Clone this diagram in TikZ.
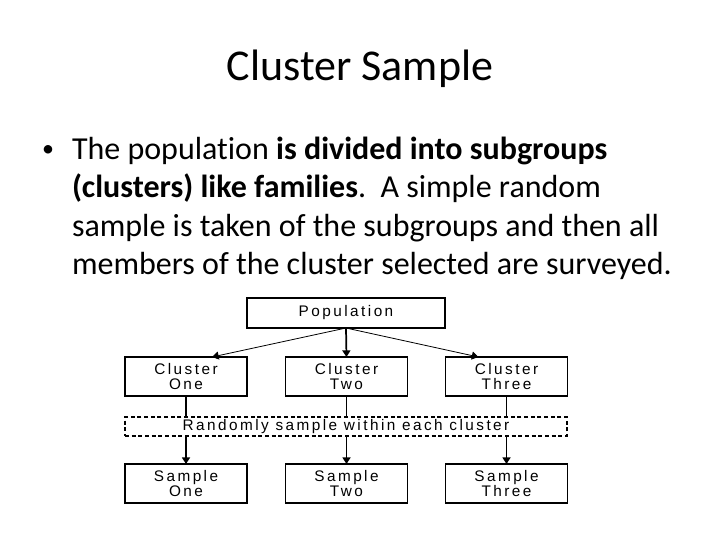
\documentclass[tikz,border=0pt]{standalone}
\usepackage{fontspec}
\setmainfont{Carlito}[Ligatures=NoCommon]
\newfontfamily\boxfont[LetterSpace=16]{Liberation Sans}
\usetikzlibrary{arrows.meta, positioning, calc}

\begin{document}
\begin{tikzpicture}[
    x=0.75pt, y=-0.75pt,
    every node/.style={inner sep=0pt, outer sep=0pt},
    slidetext/.style={font=\fontsize{24}{29}\selectfont, anchor=base west},
    box/.style={draw, line width=0.9pt, minimum width=91.5pt, minimum height=29.25pt, align=center, font=\boxfont\fontsize{11.5}{11}\selectfont},
    stepnote/.style={draw, dashed, dash pattern=on 3pt off 2pt, line width=0.9pt, minimum width=331.5pt, minimum height=14.25pt, font=\boxfont\fontsize{11.5}{11}\selectfont},
    spoke/.style={-{Triangle[width=6pt, length=5pt]}, line width=0.6pt},
    drop/.style={-{Triangle[width=6pt, length=5pt]}, line width=1.3pt},
    link/.style={line width=1.3pt}
]
\fill[white] (0,0) rectangle (720,540);
\useasboundingbox (0,0) rectangle (720,540);

% title and bullet text
\node[font=\fontsize{33}{40}\selectfont, anchor=base] (title) at (360,80) {Cluster Sample};
\node[font=\fontsize{18}{20}\selectfont, anchor=base] (dot) at (48,156) {\textbullet};
\node[slidetext] (line1) at (72,159) {The population \textbf{is divided into subgroups}};
\node[slidetext] (line2) at (72,197) {\textbf{(clusters) like families}.\ \ A simple random};
\node[slidetext] (line3) at (72,236) {sample is taken of the subgroups and then all};
\node[slidetext] (line4) at (72,274) {members of the cluster selected are surveyed.};

% diagram
\node[box, minimum width=148.5pt, minimum height=22.5pt] (pop) at (346,313) {Population};
\node[box] (c1) at (186,376.5) {Cluster\\One};
\node[box] (c2) at (346.5,376.5) {Cluster\\Two};
\node[box] (c3) at (506.5,376.5) {Cluster\\Three};
\node[stepnote] (rnd) at (346,426.5) {Randomly sample within each cluster};
\node[box] (s1) at (186,483.5) {Sample\\One};
\node[box] (s2) at (346.5,483.5) {Sample\\Two};
\node[box] (s3) at (506.5,483.5) {Sample\\Three};

\draw[spoke] (pop.south) -- ($(c1.north)+(26,0)$);
\draw[drop] (pop.south) -- (c2.north);
\draw[spoke] (pop.south) -- ($(c3.north)+(-28,0)$);
\draw[link] (c1.south) -- (c1.south |- rnd.north);
\draw[link] (c2.south) -- (c2.south |- rnd.north);
\draw[link] (c3.south) -- (c3.south |- rnd.north);
\draw[drop] (s1.north |- rnd.south) -- (s1.north);
\draw[drop] (s2.north |- rnd.south) -- (s2.north);
\draw[drop] (s3.north |- rnd.south) -- (s3.north);
\end{tikzpicture}
\end{document}
